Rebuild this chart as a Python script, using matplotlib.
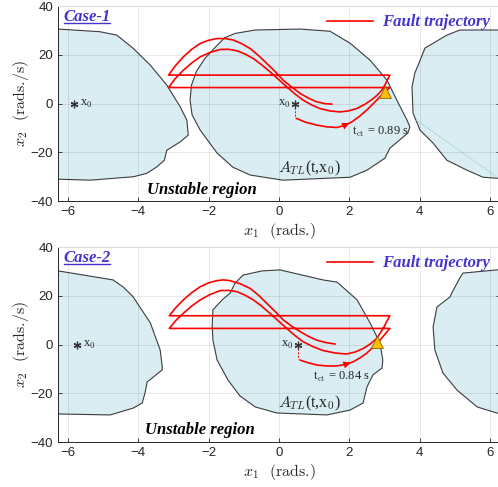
import numpy as np
import matplotlib.pyplot as plt
from matplotlib.lines import Line2D

plt.rcParams['font.family'] = ['Liberation Sans', 'DejaVu Sans']
plt.rcParams['mathtext.fontset'] = 'cm'

SERIF = 'Liberation Serif'
TXT_BLUE = '#4433cc'
REGION = '#d9edf3'
EDGE = '#3c3c3c'
DARK = '#262626'

# ---- Case 1 ----
c1_left_x = [-6.6, -6.28, -5.09, -4.61, -4.14, -3.66, -3.19, -2.81, -2.62, -2.58, -2.81, -3.19, -3.26, -3.47, -3.76, -4.14, -5.37, -6.28, -6.6]
c1_left_y = [30.6, 30.6, 29.5, 28.1, 22.6, 15.8, 7.6, -1.3, -6.8, -12.9, -15.7, -19.1, -23.2, -25.9, -28.6, -30.0, -31.4, -31.0, -31.0]
c1_main_x = [-2.53, -2.49, -2.35, -2.11, -1.82, -1.55, -1.25, -0.68, 0.6, 1.45, 2.02, 2.59, 3.07, 3.35, 3.64, 3.72, 3.66, 3.15, 3.01, 2.5, 2.02, 0.11, -0.82, -1.31, -1.76, -2.24, -2.47]
c1_main_y = [1.4, 7.5, 13.2, 18.5, 23.0, 27.0, 28.8, 30.2, 30.6, 29.7, 24.8, 17.8, 9.6, 1.4, -6.8, -9.6, -12.1, -18.3, -22.4, -27.3, -30.2, -31.4, -29.3, -26.1, -20.3, -10.9, -4.7]
c1_right_x = [6.6, 6.19, 5.14, 4.77, 4.15, 4.01, 3.86, 3.78, 3.81, 4.01, 4.38, 4.77, 5.34, 5.80, 6.19, 6.6]
c1_right_y = [30.2, 30.2, 30.2, 28.1, 22.8, 17.8, 12.5, 6.8, -3.9, -10.9, -16.2, -23.2, -27.3, -30.2, -30.6, -30.6]
# fault-on trajectory, angle wrapped to [-pi, pi]: post-fault start -> wrap -> first swing -> wrap -> second swing
c1_traj_x = [0.5, 0.75, 1.07, 1.35, 1.64, 1.85, 2.07, 2.28, 2.49, 2.68, 2.87, 3.15,
             -3.14, -2.95, -2.72, -2.48, -2.24, -1.96, -1.68, -1.44, -1.20, -0.96, -0.73, -0.5, -0.26, -0.02, 0.22, 0.45,
             0.69, 0.92, 1.16, 1.45, 1.73, 1.97, 2.21, 2.45, 2.68, 2.83, 2.96, 3.15,
             -3.14, -2.95, -2.72, -2.48, -2.24, -2.0, -1.77, -1.53, -1.30, -1.06, -0.82, -0.58, -0.35, -0.1, 0.12, 0.36,
             0.6, 0.83, 1.07, 1.3, 1.5]
c1_traj_y = [-6.1, -7.6, -8.8, -9.5, -9.8, -9.0, -7.5, -5.3, -2.7, 0.0, 2.8, 6.6,
             6.6, 10.3, 13.7, 16.7, 19.2, 21.0, 22.2, 22.3, 21.7, 20.3, 18.5, 16.0, 13.1, 10.0, 6.9, 4.0,
             1.4, -0.5, -2.0, -3.0, -3.4, -3.0, -2.0, -0.2, 2.1, 4.0, 6.2, 11.7,
             11.7, 15.5, 19.2, 22.3, 24.7, 26.0, 26.7, 26.7, 26.1, 24.6, 22.6, 19.7, 16.5, 13.0, 9.6, 6.8,
             4.2, 2.3, 0.75, 0.0, -0.2]
c1_arrow = 6  # index of arrow tip on the trajectory
c1_x0 = (0.45, -0.2)
c1_cross = (3.01, 4.8)
c1_tct = 't$_{\\rm ct}$ = 0.89 s'

# ---- Case 2 ----
c2_left_x = [-6.6, -6.28, -4.72, -4.43, -4.15, -3.66, -3.38, -3.32, -3.32, -3.75, -3.81, -3.89, -4.15, -4.80, -6.28, -6.6]
c2_left_y = [30.2, 30.2, 26.5, 23.6, 19.6, 8.9, -2.2, -9.1, -10.4, -15.4, -19.9, -24.0, -26.1, -28.9, -28.5, -28.5]
c2_main_x = [-1.76, -1.88, -1.90, -1.88, -1.62, -1.39, -1.25, -1.02, -0.48, 0.03, 1.25, 1.65, 2.22, 2.59, 2.87, 2.95, 2.93, 2.67, 2.5, 2.39, 2.02, 1.36, -0.06, -0.68, -1.11, -1.45]
c2_main_y = [-6.4, 1.8, 8.0, 14.2, 18.3, 21.1, 25.2, 28.5, 30.2, 30.6, 26.5, 25.6, 18.3, 8.8, 0.6, -6.4, -9.6, -12.5, -17.4, -24.0, -26.9, -28.9, -28.1, -25.6, -21.1, -14.6]
c2_right_x = [6.6, 6.19, 5.23, 5.14, 4.91, 4.86, 4.49, 4.38, 4.43, 4.66, 5.06, 5.63, 6.19, 6.6]
c2_right_y = [30.6, 30.6, 29.3, 27.3, 21.1, 19.5, 15.4, 7.2, -2.3, -11.7, -18.7, -25.6, -28.1, -28.1]
c2_traj_x = [0.6, 0.83, 1.07, 1.35, 1.64, 1.88, 2.11, 2.3, 2.49, 2.68, 2.87, 3.15,
             -3.12, -2.93, -2.72, -2.48, -2.24, -1.96, -1.68, -1.44, -1.20, -0.96, -0.73, -0.5, -0.26, -0.02, 0.22, 0.45,
             0.69, 0.97, 1.26, 1.6, 1.92, 2.16, 2.40, 2.6, 2.78, 2.96, 3.15,
             -3.12, -2.93, -2.72, -2.48, -2.24, -2.0, -1.77, -1.58, -1.39, -1.1, -0.82, -0.58, -0.35, -0.1, 0.12, 0.36,
             0.6, 0.83, 1.07, 1.33, 1.59]
c2_traj_y = [-6.4, -7.5, -8.4, -8.8, -8.8, -8.2, -7.1, -5.5, -3.6, -1.0, 1.8, 6.6,
             6.6, 9.9, 12.8, 15.8, 18.3, 20.5, 22.1, 22.2, 21.7, 20.2, 18.3, 15.8, 12.8, 9.7, 6.6, 3.7,
             1.1, -0.9, -2.5, -3.5, -3.9, -3.1, -1.6, 0.3, 2.5, 6.6, 11.8,
             11.8, 15.2, 18.3, 21.3, 23.7, 25.3, 26.2, 26.5, 26.2, 24.9, 23.0, 20.2, 16.9, 13.4, 10.1, 7.5,
             5.3, 3.4, 1.8, 0.8, 0.2]
c2_arrow = 6
c2_x0 = (0.55, -0.2)
c2_cross = (2.78, 1.2)
c2_tct = 't$_{\\rm ct}$ = 0.84 s'

xticks = [-6, -4, -2, 0, 2, 4, 6]
yticks = [-40, -20, 0, 20, 40]

cases = [
    dict(name='Case-1', regions=[(c1_left_x, c1_left_y), (c1_main_x, c1_main_y), (c1_right_x, c1_right_y)],
         tx=c1_traj_x, ty=c1_traj_y, arrow=c1_arrow, x0=c1_x0, cross=c1_cross, tct=c1_tct,
         tct_pos=(2.07, -11.6), atl_pos=(-0.02, -26.5), unst_pos=(-3.75, -35.5), diag=True),
    dict(name='Case-2', regions=[(c2_left_x, c2_left_y), (c2_main_x, c2_main_y), (c2_right_x, c2_right_y)],
         tx=c2_traj_x, ty=c2_traj_y, arrow=c2_arrow, x0=c2_x0, cross=c2_cross, tct=c2_tct,
         tct_pos=(0.97, -13.2), atl_pos=(-0.02, -24.0), unst_pos=(-3.8, -35.1), diag=False),
]

fig = plt.figure(figsize=(4.98, 4.87), dpi=100)
positions = [[0.1165, 0.587, 0.8876, 0.4004], [0.1165, 0.0924, 0.8876, 0.4004]]
case_texts = []

for pos, c in zip(positions, cases):
    ax = fig.add_axes(pos)
    ax.set_xlim(-2 * np.pi, 2 * np.pi)
    ax.set_ylim(-40, 40)
    ax.set_xticks(xticks)
    ax.set_yticks(yticks)
    ax.grid(True, color='k', alpha=0.09, lw=0.7)
    ax.tick_params(direction='in', length=3, right=True, top=False, labelsize=9.5,
                   colors=DARK, width=0.6)
    for s in ['left', 'bottom', 'right']:
        ax.spines[s].set_color(DARK)
        ax.spines[s].set_linewidth(0.7)
    ax.spines['top'].set_color('#dcdcdc')

    for bx, by in c['regions']:
        ax.fill(bx, by, facecolor=REGION, edgecolor=EDGE, lw=0.8, zorder=1)
    if c['diag']:
        ax.plot([3.91, 6.18], [-6.8, -30.0], color='#a9d6e3', lw=0.6, zorder=1.5)

    tx, ty = c['tx'], c['ty']
    ax.plot(tx, ty, color='red', lw=1.2, zorder=3, solid_joinstyle='round')
    k = c['arrow']
    ax.annotate('', xy=(tx[k], ty[k]), xytext=(tx[k - 1], ty[k - 1]),
                arrowprops=dict(arrowstyle='-|>', color='red', lw=0, mutation_scale=13), zorder=4)
    x0x, x0y = c['x0']
    ax.plot([x0x, x0x], [x0y, ty[0] + 0.4], color='red', lw=0.7, ls=(0, (2, 1.5)), zorder=3)
    ax.plot([x0x], [x0y], marker=(6, 2, 0), ms=5.5, mew=0.9, color='#333333', ls='none', zorder=5)
    ax.plot([x0x - 2 * np.pi], [x0y], marker=(6, 2, 0), ms=5.5, mew=0.9, color='#333333', ls='none', zorder=5)
    ax.text(x0x - 0.12, x0y, 'x$_0$', family=SERIF, fontsize=9, color=DARK, ha='right', va='center')
    ax.text(x0x - 2 * np.pi + 0.17, x0y, 'x$_0$', family=SERIF, fontsize=9, color=DARK, ha='left', va='center')
    ax.plot([c['cross'][0]], [c['cross'][1]], marker='^', ms=8, mfc='#ffbf00', mec='#8a6a00', mew=0.6,
            ls='none', zorder=6)

    ax.text(c['tct_pos'][0], c['tct_pos'][1], c['tct'], family=SERIF, fontsize=9, color=DARK,
            ha='left', va='center')
    ax.text(c['atl_pos'][0], c['atl_pos'][1], '$A_{TL}$(t,x$_0$)', family=SERIF, fontsize=11.5,
            color=DARK, ha='left', va='center')
    ax.text(c['unst_pos'][0], c['unst_pos'][1], 'Unstable region', family=SERIF, fontsize=12,
            weight='bold', style='italic', color='black', ha='left', va='center')
    t = ax.text(-6.13, 35.5, c['name'], family=SERIF, fontsize=12, weight='bold', style='italic',
                color=TXT_BLUE, ha='left', va='center')
    case_texts.append(t)

    ax.legend([Line2D([], [], color='red', lw=1.2)], ['Fault trajectory'], loc='upper right',
              bbox_to_anchor=(0.995, 1.0), frameon=False, handlelength=2.8, handletextpad=0.5,
              borderaxespad=0.1, labelcolor=TXT_BLUE,
              prop=dict(family=SERIF, weight='bold', style='italic', size=12))

    ax.set_xlabel(r'$x_1$  (rads.)', family='cmr10', fontsize=11.5, color=DARK, labelpad=2)
    ax.set_ylabel(r'$x_2$  (rads./s)', family='cmr10', fontsize=11.5, color=DARK)
    ax.yaxis.set_label_coords(-0.062, 0.5)

# underline the case labels
fig.canvas.draw()
r = fig.canvas.get_renderer()
inv = fig.transFigure.inverted()
for t in case_texts:
    bb = t.get_window_extent(r)
    (xa, ya) = inv.transform((bb.x0 + 1, bb.y0 + 2))
    (xb, _) = inv.transform((bb.x1 - 1, bb.y0 + 2))
    fig.add_artist(Line2D([xa, xb], [ya, ya], color=TXT_BLUE, lw=1.0, transform=fig.transFigure))

fig.savefig('out.png', dpi=100)
